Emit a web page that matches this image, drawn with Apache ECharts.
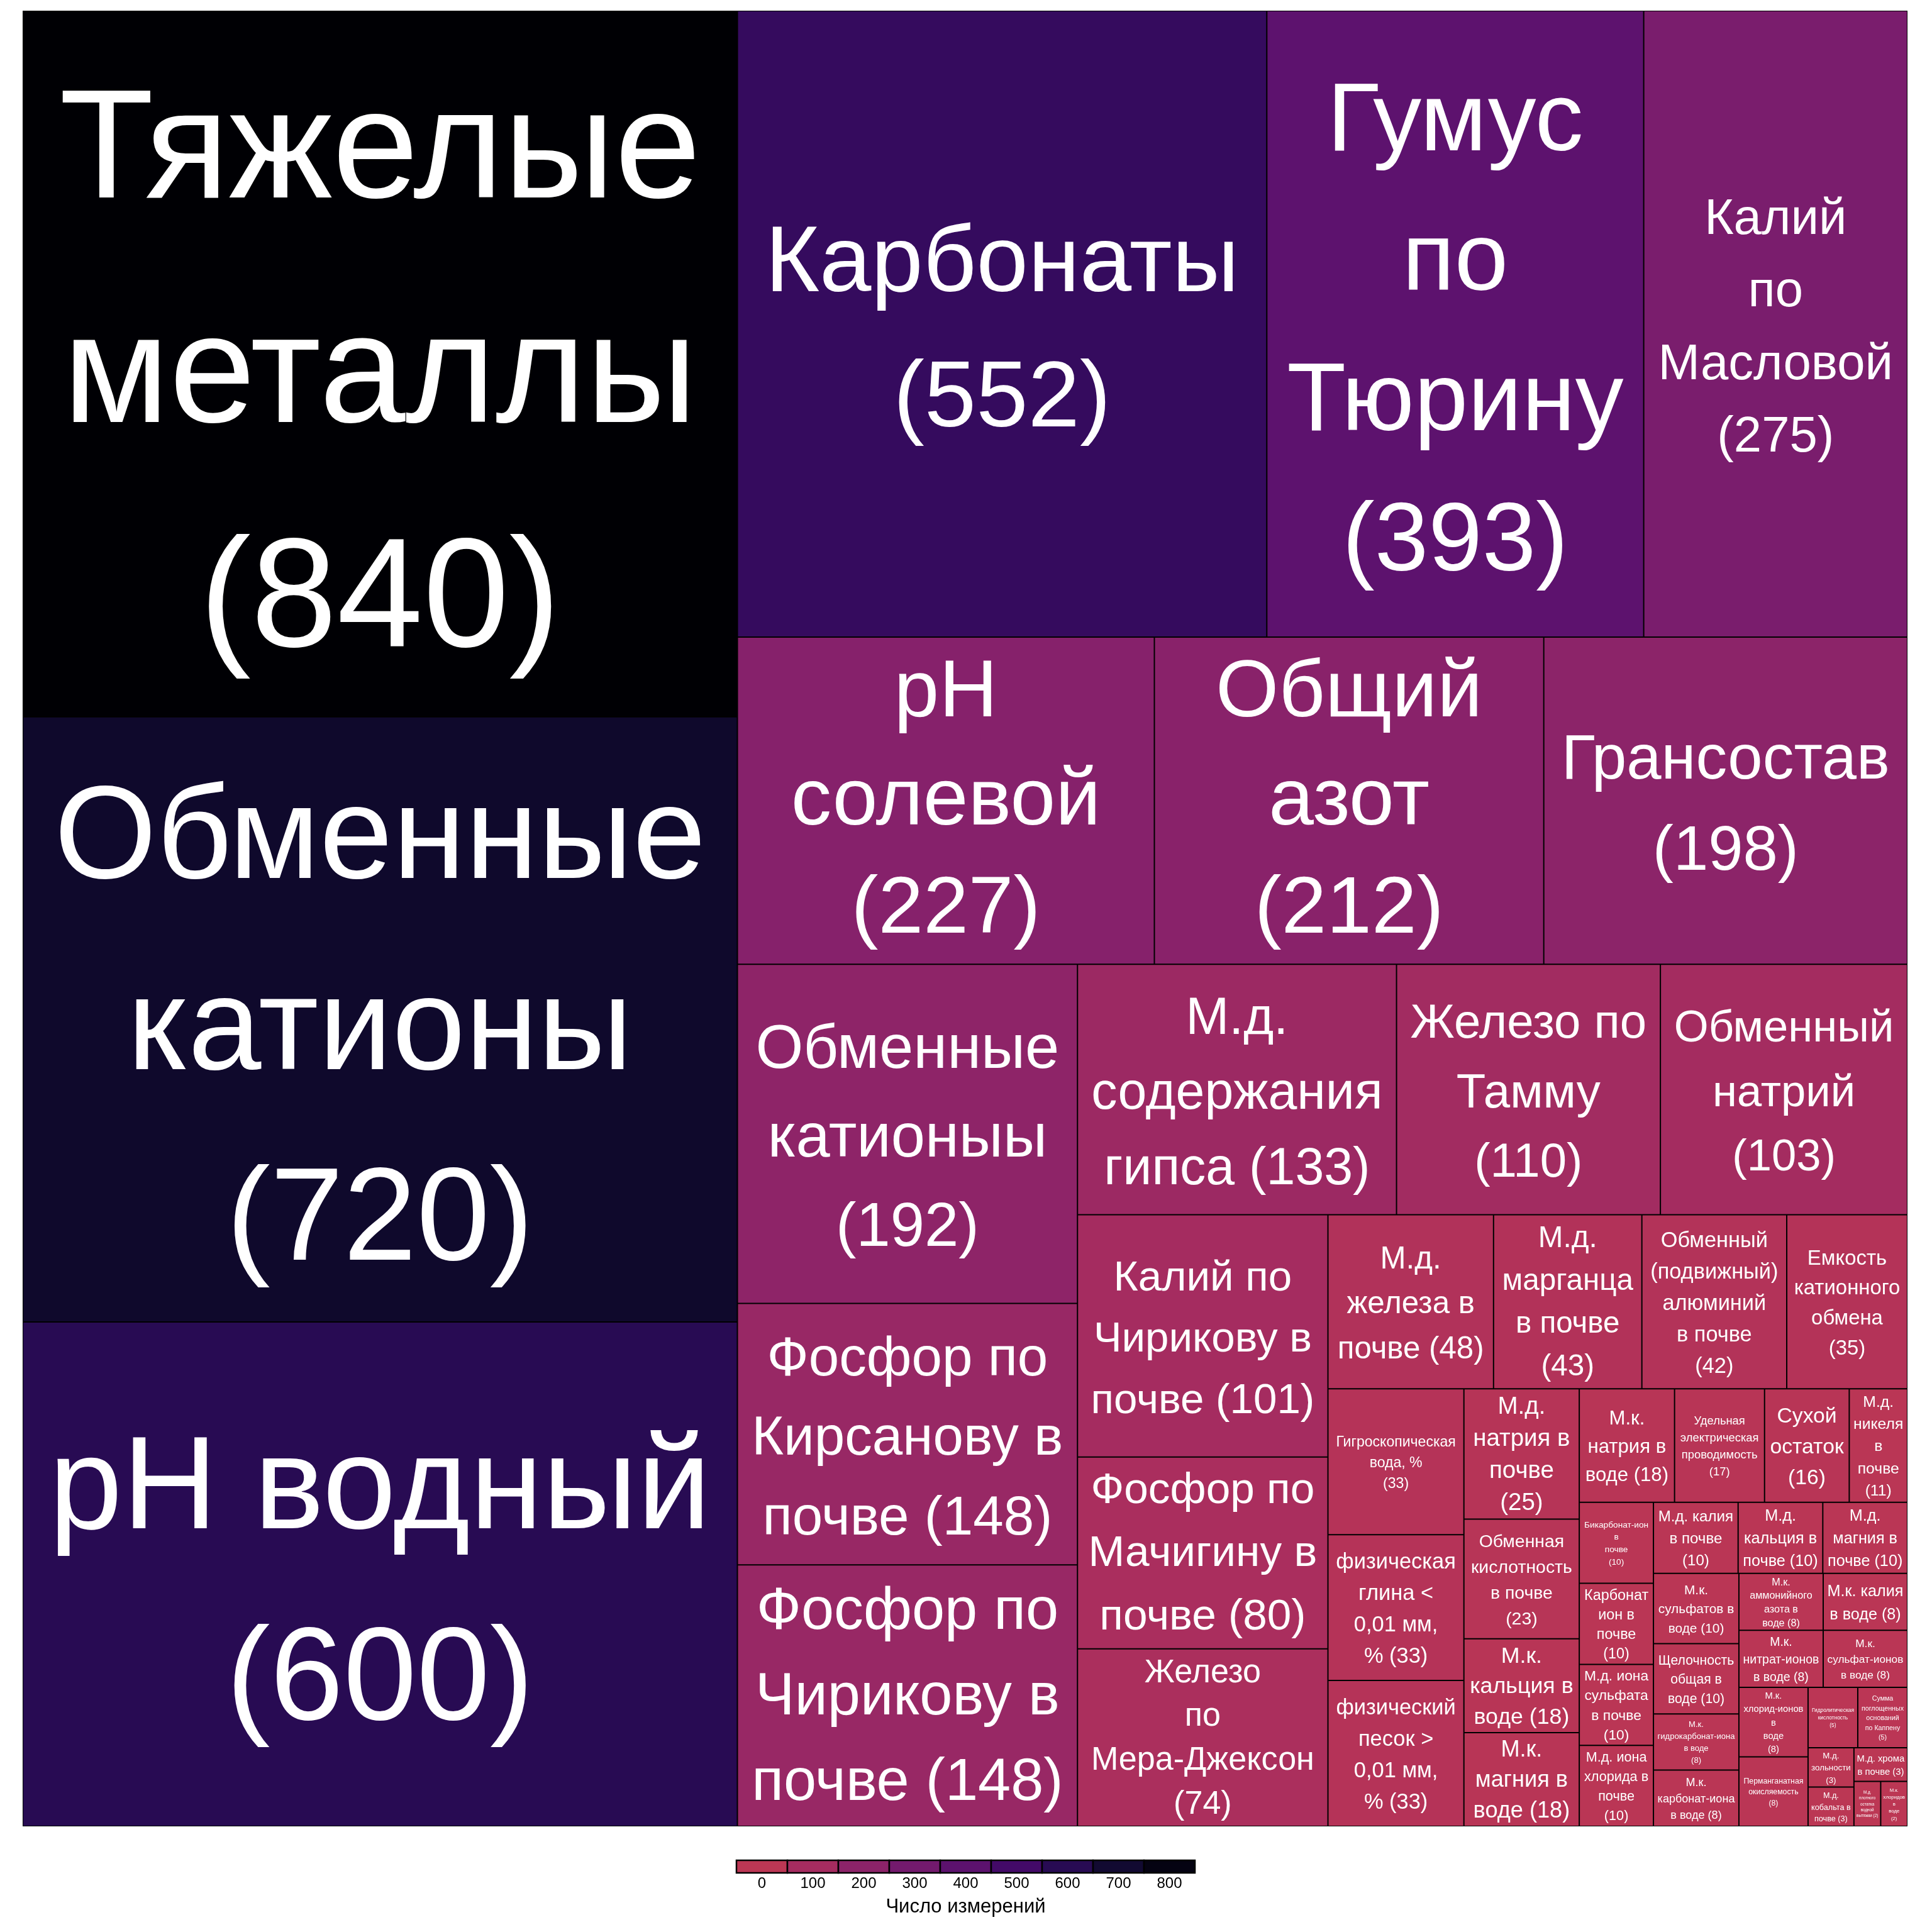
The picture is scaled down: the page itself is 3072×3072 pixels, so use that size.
<!DOCTYPE html>
<html><head><meta charset="utf-8">
<script src="https://cdn.jsdelivr.net/npm/echarts@6/dist/echarts.min.js"></script>
<style>html,body{margin:0;padding:0;background:#fff}#c{width:3072px;height:3072px}</style>
</head><body><div id="c"></div>
<script>
const categories = [
  'Тяжелые металлы','Обменные катионы','pH водный','Карбонаты','Гумус по Тюрину','Калий по Масловой',
  'pH солевой','Общий азот','Грансостав','Обменные катионыы','Фосфор по Кирсанову в почве','Фосфор по Чирикову в почве',
  'М.д. содержания гипса','Железо по Тамму','Обменный натрий','Калий по Чирикову в почве','Фосфор по Мачигину в почве',
  'Железо по Мера-Джексон','М.д. железа в почве','М.д. марганца в почве','Обменный (подвижный) алюминий в почве',
  'Емкость катионного обмена','Гигроскопическая вода, %','физическая глина < 0,01 мм, %','физический песок > 0,01 мм, %',
  'М.д. натрия в почве','Обменная кислотность в почве','М.к. кальция в воде','М.к. магния в воде','М.к. натрия в воде',
  'Удельная электрическая проводимость','Сухой остаток','М.д. никеля в почве','Бикарбонат-ион в почве','Карбонат ион в почве',
  'М.д. иона сульфата в почве','М.д. иона хлорида в почве','М.д. калия в почве','М.д. кальция в почве','М.д. магния в почве',
  'М.к. сульфатов в воде','Щелочность общая в воде','М.к. гидрокарбонат-иона в воде','М.к. карбонат-иона в воде',
  'М.к. аммонийного азота в воде','М.к. калия в воде','М.к. нитрат-ионов в воде','М.к. сульфат-ионов в воде',
  'М.к. хлорид-ионов в воде','Перманганатная окисляемость','Гидролитическая кислотность','Сумма поглощенных оснований по Каппену',
  'М.д. зольности','М.д. кобальта в почве','М.д. хрома в почве','М.д. плотного остатка водной вытяжки','М.к. хлоридов в воде'
];
const counts = [
  840,720,600,552,393,275,
  227,212,198,192,148,148,
  133,110,103,101,80,
  74,48,43,42,
  35,33,33,33,
  25,23,18,18,18,
  17,16,11,10,10,
  10,10,10,10,10,
  10,10,8,8,
  8,8,8,8,
  8,8,5,5,
  3,3,3,2,2
];
// line breaks of each tile label as printed in the chart ({v} = count)
const labelTemplates = [
  'Тяжелые\nметаллы\n({v})','Обменные\nкатионы\n({v})','pH водный\n({v})','Карбонаты\n({v})','Гумус\nпо\nТюрину\n({v})','Калий\nпо\nМасловой\n({v})',
  'pH\nсолевой\n({v})','Общий\nазот\n({v})','Грансостав\n({v})','Обменные\nкатионыы\n({v})','Фосфор по\nКирсанову в\nпочве ({v})','Фосфор по\nЧирикову в\nпочве ({v})',
  'М.д.\nсодержания\nгипса ({v})','Железо по\nТамму\n({v})','Обменный\nнатрий\n({v})','Калий по\nЧирикову в\nпочве ({v})','Фосфор по\nМачигину в\nпочве ({v})',
  'Железо\nпо\nМера-Джексон\n({v})','М.д.\nжелеза в\nпочве ({v})','М.д.\nмарганца\nв почве\n({v})','Обменный\n(подвижный)\nалюминий\nв почве\n({v})',
  'Емкость\nкатионного\nобмена\n({v})','Гигроскопическая\nвода, %\n({v})','физическая\nглина <\n0,01 мм,\n% ({v})','физический\nпесок >\n0,01 мм,\n% ({v})',
  'М.д.\nнатрия в\nпочве\n({v})','Обменная\nкислотность\nв почве\n({v})','М.к.\nкальция в\nводе ({v})','М.к.\nмагния в\nводе ({v})','М.к.\nнатрия в\nводе ({v})',
  'Удельная\nэлектрическая\nпроводимость\n({v})','Сухой\nостаток\n({v})','М.д.\nникеля\nв\nпочве\n({v})','Бикарбонат-ион\nв\nпочве\n({v})','Карбонат\nион в\nпочве\n({v})',
  'М.д. иона\nсульфата\nв почве\n({v})','М.д. иона\nхлорида в\nпочве\n({v})','М.д. калия\nв почве\n({v})','М.д.\nкальция в\nпочве ({v})','М.д.\nмагния в\nпочве ({v})',
  'М.к.\nсульфатов в\nводе ({v})','Щелочность\nобщая в\nводе ({v})','М.к.\nгидрокарбонат-иона\nв воде\n({v})','М.к.\nкарбонат-иона\nв воде ({v})',
  'М.к.\nаммонийного\nазота в\nводе ({v})','М.к. калия\nв воде ({v})','М.к.\nнитрат-ионов\nв воде ({v})','М.к.\nсульфат-ионов\nв воде ({v})',
  'М.к.\nхлорид-ионов\nв\nводе\n({v})','Перманганатная\nокисляемость\n({v})','Гидролитическая\nкислотность\n({v})','Сумма\nпоглощенных\nоснований\nпо Каппену\n({v})',
  'М.д.\nзольности\n({v})','М.д.\nкобальта в\nпочве ({v})','М.д. хрома\nв почве ({v})','М.д.\nплотного\nостатка\nводной\nвытяжки ({v})','М.к.\nхлоридов\nв\nводе\n({v})'
];
const legendTicks = [0,100,200,300,400,500,600,700,800];
const legendTitle = 'Число измерений';
const infernoStops = ['#BC3754','#A92E5E','#932667','#801F6C','#6A176E','#57106E','#420A68','#2B0B57','#160B39','#0A0722','#000004'];

const FONT = 'Liberation Sans';
const TM = {left: 36, top: 17, width: 2997, height: 2887};
const chart = echarts.init(document.getElementById('c'), null, {width: 3072, height: 3072});
const vMax = Math.max(...counts);
const colorCfg = {color: infernoStops, colorMappingBy: 'value', visualDimension: 1, visualMin: 0, visualMax: vMax};

// ---- split the items into strips (squarified, a row grows while its largest tile gets squarer) ----
function planStrips(vals, W, H) {
  const total = vals.reduce((a, b) => a + b, 0);
  const k = W * H / total;
  const asp = (A1, A, L) => { const t = A / L, l1 = A1 / t; return Math.max(l1 / t, t / l1); };
  let w = W, h = H, i = 0;
  const strips = [];
  while (i < vals.length) {
    const L = Math.min(w, h);
    const row = [i];
    let A = vals[i] * k, best = asp(vals[i] * k, A, L), j = i + 1;
    while (j < vals.length) {
      const A2 = A + vals[j] * k, s = asp(vals[i] * k, A2, L);
      if (s <= best) { row.push(j); A = A2; best = s; j++; } else break;
    }
    const t = A / L;
    strips.push({items: row, t: t, k: k});
    if (L === w) h -= t; else w -= t;
    i = j;
  }
  return strips;
}

function leafNode(i, labels) {
  const item = {name: categories[i], value: [counts[i], counts[i]], itemStyle: {borderWidth: 1, borderColor: '#000', gapWidth: 0}};
  if (labels && labels[i]) item.label = labels[i];
  return item;
}
function groupNode(children) {
  const sum = children.reduce((a, c) => a + c.value[0], 0);
  return Object.assign({name: '', value: [sum, 0], children: children, itemStyle: {borderWidth: 0, gapWidth: 0, borderColor: '#000'}, label: {show: false}}, colorCfg);
}
function buildStrip(items, t, k, labels) {
  if (items.length === 1) return leafNode(items[0], labels);
  const lens = items.map(i => counts[i] * k / t);
  const Ltot = lens.reduce((a, b) => a + b, 0);
  if (Ltot >= t) {
    if (items.length === 2 || Ltot - lens[0] >= t)
      return groupNode([leafNode(items[0], labels), buildStrip(items.slice(1), t, k, labels)]);
    if (Ltot - lens[lens.length - 1] >= t)
      return groupNode([buildStrip(items.slice(0, -1), t, k, labels), leafNode(items[items.length - 1], labels)]);
  }
  return groupNode(items.map(i => leafNode(i, labels)));
}
const strips = planStrips(counts, TM.width, TM.height);
function buildData(labels) {
  function fromStrip(s) {
    const node = buildStrip(strips[s].items, strips[s].t, strips[s].k, labels);
    if (s === strips.length - 1) return [node];
    const rest = fromStrip(s + 1);
    return [node, rest.length === 1 ? rest[0] : groupNode(rest)];
  }
  return fromStrip(0);
}

const option = {
  animation: false,
  backgroundColor: '#fff',
  grid: {left: 1171, top: 2958, width: 729, height: 20},
  xAxis: {
    type: 'value', min: -50, max: 850,
    axisLine: {show: false}, axisTick: {show: false}, splitLine: {show: false},
    axisLabel: {customValues: legendTicks, fontSize: 24, color: '#000', fontFamily: FONT, margin: 5},
    name: legendTitle, nameLocation: 'middle', nameGap: 39,
    nameTextStyle: {fontSize: 31, color: '#000', fontFamily: FONT}
  },
  yAxis: {type: 'value', min: 0, max: 1, show: false},
  visualMap: {show: false, type: 'continuous', seriesIndex: 1, dimension: 2, min: 0, max: vMax, inRange: {color: infernoStops}},
  series: [
    {
      type: 'treemap', left: TM.left, top: TM.top, width: TM.width, height: TM.height,
      roam: false, nodeClick: false, breadcrumb: {show: false},
      squareRatio: 1, sort: false, visibleMin: 0,
      label: {show: true, position: 'inside', color: '#fff', fontFamily: FONT, overflow: 'none', padding: 0, align: 'center', verticalAlign: 'middle'},
      upperLabel: {show: false},
      emphasis: {disabled: true},
      levels: [Object.assign({itemStyle: {borderWidth: 0, gapWidth: 0, borderColor: '#000'}}, colorCfg)],
      data: buildData(null)
    },
    {
      type: 'custom', coordinateSystem: 'cartesian2d',
      encode: {x: [0, 1]},
      data: legendTicks.map(t => [t - 50, t + 50, t]),
      renderItem: function (params, api) {
        const p0 = api.coord([api.value(0), 0]);
        const p1 = api.coord([api.value(1), 1]);
        return {type: 'rect', shape: {x: p0[0], y: p1[1], width: p1[0] - p0[0], height: p0[1] - p1[1]},
          style: {fill: api.visual('color'), stroke: '#000', lineWidth: 2.5}};
      }
    }
  ]
};
chart.setOption(option);

// ---- grow each label to fill its tile ----
const cv = document.createElement('canvas');
const ctx = cv.getContext('2d');
ctx.font = '100px "' + FONT + '"';
function mw(s) { return ctx.measureText(s).width / 100; }
const LH_FIT = 1.2, LH_RENDER = 1.45;
function fit(text, W, H) {
  const lines = text.split('\n');
  const pad = 0.05 * Math.min(W, H) + 2;
  const aw = W - 2 * pad, ah = H - 2 * pad;
  const maxw = Math.max(...lines.map(mw));
  const s = Math.max(Math.min(aw / maxw, ah / (lines.length * LH_FIT)), 1);
  const lh = Math.min(s * LH_RENDER, (H - 4) / lines.length);
  const dy = Math.min(0.1 * s, Math.max(0, (H - lh * lines.length) / 2));
  return {show: true, formatter: text, fontSize: s, lineHeight: lh, offset: [0, dy]};
}
const d = chart.getModel().getSeriesByIndex(0).getData();
const idx = new Map(categories.map((c, i) => [c, i]));
const labels = new Array(categories.length).fill(null);
for (let i = 0; i < d.count(); i++) {
  const nm = d.getName(i);
  if (!idx.has(nm)) continue;
  const lay = d.getItemLayout(i);
  if (!lay) continue;
  const k = idx.get(nm);
  labels[k] = fit(labelTemplates[k].replace('{v}', String(counts[k])), lay.width, lay.height);
}
chart.setOption({series: [{data: buildData(labels)}]});
</script></body></html>
